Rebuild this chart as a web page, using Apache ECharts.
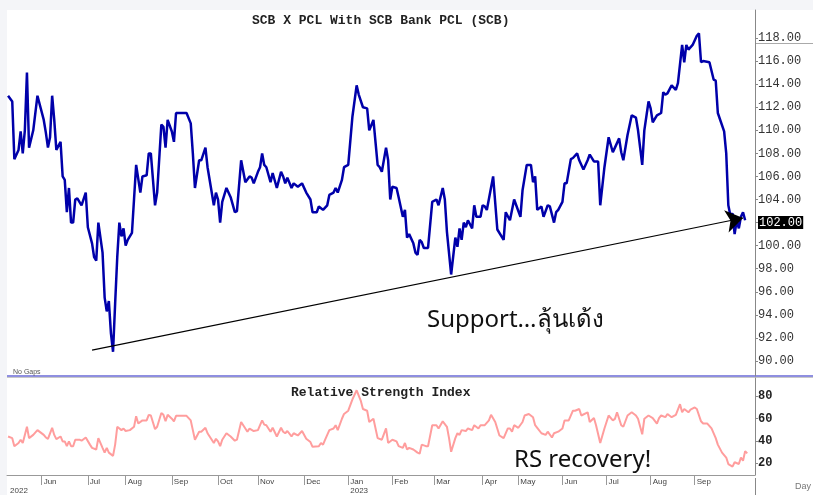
<!DOCTYPE html>
<html>
<head>
<meta charset="utf-8">
<script src="https://cdn.jsdelivr.net/npm/echarts@6/dist/echarts.min.js"></script>
<style>
html, body { margin: 0; padding: 0; background: #fff; }
#chart { width: 813px; height: 495px; }
</style>
</head>
<body>
<div id="chart"></div>
<script>
// x = trading day counted from the first bar (mid May 2022)
var priceDay = [
    0, 2, 3, 5, 6, 7, 8, 9, 10, 12,
    14, 17, 18, 19, 20, 21, 22, 23, 25, 26,
    27, 28, 29, 30, 31, 32, 33, 35, 37, 38,
    40, 41, 42, 43, 45, 46, 47, 48, 49, 50,
    51, 52, 53, 54, 55, 56, 57, 59, 61, 63,
    64, 66, 67, 68, 70, 71, 73, 74, 75, 76,
    78, 79, 80, 85, 87, 88, 89, 91, 92, 94,
    95, 98, 99, 100, 101, 102, 104, 106, 108, 109,
    111, 113, 115, 116, 117, 119, 120, 121, 122, 123,
    125, 126, 128, 130, 131, 132, 133, 135, 136, 138,
    140, 142, 144, 145, 147, 148, 150, 152, 153, 155,
    156, 157, 159, 160, 162, 164, 166, 167, 169, 171,
    172, 174, 176, 177, 178, 180, 181, 182, 183, 185,
    186, 188, 189, 190, 191, 193, 194, 195, 196, 197,
    198, 200, 202, 204, 205, 207, 208, 209, 211, 213,
    214, 215, 216, 217, 218, 219, 221, 222, 223, 225,
    226, 227, 228, 231, 233, 236, 237, 239, 241, 242,
    244, 245, 247, 249, 250, 251, 252, 254, 255, 257,
    258, 260, 261, 262, 264, 265, 266, 268, 269, 271,
    272, 274, 276, 277, 279, 281, 282, 284, 286, 288,
    289, 291, 292, 293, 295, 297, 299, 300, 302, 303,
    305, 306, 307, 309, 311, 312, 313, 314, 316, 318,
    319, 321, 322, 323, 324, 326, 328, 329, 330, 331,
    334, 336, 337, 338, 341, 342, 343, 344, 345, 346,
    347, 348, 349, 350, 351
];
var priceClose = [
    113.0, 112.5, 107.5, 108.3, 109.9, 108, 110, 115, 108.5, 110,
    113, 110.9, 109.8, 108.5, 109.4, 113, 110.9, 108.3, 109, 106,
    105.7, 102.9, 105, 102, 102, 104, 104.1, 103.5, 104.6, 101.6,
    100.2, 99, 98.7, 102, 99.4, 95.5, 94.3, 95.2, 92.4, 90.8,
    95, 99, 102, 100.8, 101.5, 100, 100.5, 101.1, 107, 104.6,
    106, 106.1, 108, 108, 103.5, 104.6, 110.5, 110.3, 108.5, 110.9,
    109.9, 109, 111.5, 111.5, 110.6, 108, 105, 107.4, 107.4, 108.5,
    106.8, 103.5, 104.6, 104, 102, 103.8, 105, 104.2, 102.9, 103,
    107.4, 105.5, 106, 105.9, 105.4, 106.4, 106.8, 108, 107, 106.8,
    105.5, 106.3, 105, 106.4, 106, 105.4, 105.9, 105, 105.4, 105.1,
    105.4, 104.6, 104, 102.9, 102.9, 103.4, 103.1, 103.5, 104.4, 104.6,
    105, 104.6, 105.7, 106.8, 107, 111.2, 113.9, 113.1, 112, 111.9,
    110, 110.9, 107, 106.8, 106.4, 108.5, 107.4, 104, 105.1, 105,
    104.2, 102.5, 103.1, 100.7, 101, 100.2, 99.4, 99.2, 100.5, 100.3,
    99.8, 99.8, 103.8, 104, 103.5, 105, 104, 101.2, 97.5, 100.7,
    99.9, 101.5, 100.5, 102, 101.6, 102.2, 101.5, 103.5, 102.5, 102.5,
    103.5, 103.4, 103.1, 106, 101.4, 100.5, 102.9, 102.2, 104, 103.5,
    102.5, 104.8, 107, 107, 105.5, 106, 103.1, 103.4, 102.5, 103.5,
    103.4, 102, 102.9, 103.1, 103.8, 105.4, 105.4, 107.5, 107.6, 108,
    107.4, 106.6, 107.4, 107.9, 107.3, 107.3, 103.5, 106.8, 109.4, 108.1,
    108.5, 109.3, 108.1, 107.4, 109.6, 111.3, 111.1, 110, 107, 110,
    112.5, 111.9, 110.7, 111.3, 111.5, 113.3, 113.1, 113.2, 113.9, 113.5,
    114.1, 117.4, 115.9, 117.4, 117, 117.4, 118.2, 118.4, 115.9, 116,
    115.9, 114.4, 114.3, 111.5, 109.9, 108, 103.5, 102.6, 102.8, 101,
    102.2, 101.5, 102.5, 102.9, 102.2
];

var rsiDay = [
    0, 2, 3, 5, 6, 7, 8, 9, 10, 12,
    14, 17, 18, 19, 21, 22, 23, 25, 26, 27,
    28, 29, 30, 31, 32, 34, 35, 37, 39, 40,
    42, 43, 45, 46, 47, 48, 50, 51, 52, 54,
    55, 56, 58, 60, 61, 62, 64, 66, 67, 68,
    70, 71, 73, 74, 75, 76, 78, 79, 80, 85,
    87, 88, 89, 91, 92, 94, 95, 98, 99, 100,
    101, 102, 104, 106, 108, 109, 111, 114, 115, 117,
    119, 120, 121, 122, 123, 125, 126, 128, 130, 131,
    132, 133, 135, 136, 138, 140, 142, 144, 145, 148,
    149, 150, 151, 153, 155, 156, 157, 159, 160, 162,
    164, 166, 168, 169, 171, 172, 174, 176, 178, 180,
    181, 183, 185, 186, 188, 189, 190, 191, 193, 195,
    196, 197, 199, 200, 202, 204, 205, 207, 209, 210,
    211, 213, 214, 215, 216, 218, 219, 221, 222, 224,
    225, 227, 229, 230, 232, 234, 236, 238, 239, 240,
    241, 243, 245, 246, 248, 250, 251, 252, 254, 256,
    257, 259, 260, 262, 264, 265, 267, 269, 270, 272,
    273, 276, 277, 279, 280, 282, 284, 286, 288, 289,
    290, 292, 293, 295, 297, 299, 300, 302, 303, 305,
    307, 309, 310, 311, 313, 314, 316, 318, 320, 321,
    322, 324, 325, 327, 328, 330, 331, 333, 335, 337,
    338, 340, 342, 343, 345, 346, 348, 349, 350, 351,
    352
];
var rsiValue = [
    44.1, 42.6, 35.4, 38.3, 41.2, 38.3, 45.5, 52.8, 42.6, 45.5,
    49.8, 45.5, 43.2, 42, 51.9, 45.5, 41.7, 44.1, 39.7, 39.7,
    35.4, 39.7, 35.4, 35.4, 41.2, 41.2, 40.3, 43.2, 36.8, 33.9,
    32.4, 42.6, 33.9, 29.6, 33.9, 29.6, 26.7, 36.8, 52.8, 49.8,
    51.2, 49, 49.8, 52.8, 62.3, 55.7, 58.5, 58.5, 63.5, 62.9,
    50.7, 52.8, 65.2, 63.5, 57.7, 63.5, 60, 57.7, 62.6, 62.6,
    58.5, 49.8, 41.2, 48.4, 48.4, 51.9, 47, 38.3, 42, 39.7,
    35.4, 41.2, 47, 44.1, 40.3, 41.2, 57.1, 48.4, 51.2, 49,
    49.8, 54.2, 58.5, 54.7, 54.2, 48.4, 51.9, 44.1, 51.9, 48.4,
    47, 49, 44.1, 47, 45, 49, 42, 39.1, 34.8, 35.4,
    38.3, 36.8, 41.2, 49.8, 51.2, 54.2, 49.8, 60, 64.3, 67.2,
    77.4, 85.5, 76, 68.7, 67.2, 57.1, 60, 42.6, 41.2, 51.3,
    38.3, 41.2, 39.7, 35.4, 33.9, 38.3, 32.4, 33.9, 32.4, 29.6,
    28.7, 36.8, 35.4, 35.4, 54.2, 54.2, 51.3, 57.7, 52.8, 42.6,
    30.4, 42.6, 47, 45.5, 49.8, 49, 51.3, 49.8, 54.2, 51.3,
    54.2, 54.2, 58.5, 63.5, 57.1, 45, 42.6, 51.3, 51.3, 48.4,
    54.2, 51.9, 57.1, 62.9, 64.3, 61.4, 54.2, 51.9, 47, 45.5,
    48.4, 43.2, 47, 48.4, 51.3, 58.5, 58.5, 67.2, 67.2, 68.7,
    62.9, 65.8, 57.1, 60.6, 54.2, 38.3, 51.3, 62.9, 58.5, 59.9,
    65.8, 54.2, 52.8, 62.9, 65.8, 62.9, 60, 46.1, 60, 62.9,
    60.6, 55.7, 60.6, 62.9, 61.4, 64.3, 61.4, 63.5, 73, 65.8,
    68.7, 65.8, 68.1, 70.1, 68.7, 57.7, 55.7, 55.7, 51.3, 42.6,
    36.8, 29.6, 25.2, 19.4, 17.1, 21, 19.4, 25.2, 22.3, 31,
    29
];

var monthDay = [16, 38, 56, 78, 100, 119, 141, 162, 183, 203, 226, 243, 264, 285, 306, 327];
var monthName = ['Jun', 'Jul', 'Aug', 'Sep', 'Oct', 'Nov', 'Dec', 'Jan', 'Feb', 'Mar', 'Apr', 'May', 'Jun', 'Jul', 'Aug', 'Sep'];
var yearDay = [0, 162];
var yearName = ['2022', '2023'];

var priceTicks = [90, 92, 94, 96, 98, 100, 102, 104, 106, 108, 110, 112, 114, 116, 118];
var rsiTicks = [20, 40, 60, 80];
var lastPrice = 102;

// support line: from the July 2022 low to the last bar
var supportFrom = [40, 90.95];
var supportTo = [350, 102.4];

var mono = '"Liberation Mono", "DejaVu Sans Mono", monospace';

function zip(xs, ys) {
    return xs.map(function (x, i) { return [x, ys[i]]; });
}

var dom = document.getElementById('chart');
var myChart = echarts.init(dom);
var option = {
    backgroundColor: '#fff',
    animation: false,
    title: [{
        text: 'SCB X PCL With SCB Bank PCL (SCB)',
        left: 247,
        top: 9,
        textStyle: { fontFamily: mono, fontWeight: 'bold', fontSize: 13, color: '#222' }
    }, {
        text: 'Relative Strength Index',
        left: 286,
        top: 381,
        textStyle: { fontFamily: mono, fontWeight: 'bold', fontSize: 13, color: '#222' }
    }],
    grid: [
        { left: 7, right: 58, top: 10, height: 366 },
        { left: 7, right: 58, top: 378, height: 100 }
    ],
    xAxis: [{
        type: 'value',
        gridIndex: 0,
        min: -0.5,
        max: 355.7,
        show: false
    }, {
        type: 'value',
        gridIndex: 1,
        min: -0.5,
        max: 355.7,
        axisLine: { onZero: false, lineStyle: { color: '#999' } },
        axisTick: { customValues: monthDay, length: 10, lineStyle: { color: '#999' } },
        splitLine: { show: false },
        axisLabel: {
            customValues: [0].concat(monthDay),
            align: 'left',
            margin: 2,
            padding: [0, 0, 0, 2],
            fontSize: 8,
            lineHeight: 9,
            color: '#444',
            fontFamily: '"Liberation Sans", Arial, sans-serif',
            formatter: function (v) {
                var m = monthDay.indexOf(v);
                var y = yearDay.indexOf(v);
                return (m >= 0 ? monthName[m] : '') + (y >= 0 ? '\n' + yearName[y] : '');
            }
        }
    }],
    yAxis: [{
        type: 'value',
        gridIndex: 0,
        position: 'right',
        min: 88.7,
        max: 120.43,
        splitLine: { show: false },
        axisLine: { show: true, onZero: false, lineStyle: { color: '#888' } },
        axisTick: { show: true, customValues: priceTicks, length: 3, lineStyle: { color: '#888' } },
        axisLabel: {
            customValues: priceTicks,
            margin: 3,
            fontFamily: mono,
            fontSize: 12,
            color: '#333',
            formatter: function (v) {
                return v === lastPrice ? '{hi|' + v.toFixed(2) + '}' : v.toFixed(2);
            },
            rich: {
                hi: { backgroundColor: '#000', color: '#fff', fontFamily: mono, fontSize: 12, padding: [1, 1, 0, 1] }
            }
        }
    }, {
        type: 'value',
        gridIndex: 1,
        position: 'right',
        min: 9.57,
        max: 96.52,
        splitLine: { show: false },
        axisLine: { show: true, onZero: false, lineStyle: { color: '#888' } },
        axisTick: { show: true, customValues: rsiTicks, length: 3, lineStyle: { color: '#888' } },
        axisLabel: {
            customValues: rsiTicks,
            margin: 3,
            fontFamily: mono,
            fontWeight: 'bold',
            fontSize: 12,
            color: '#222'
        }
    }],
    series: [{
        name: 'SCB',
        type: 'line',
        xAxisIndex: 0,
        yAxisIndex: 0,
        showSymbol: false,
        data: zip(priceDay, priceClose),
        lineStyle: { color: '#0000aa', width: 2.5 },
        z: 3,
        markLine: {
            silent: true,
            symbol: ['none', 'arrow'],
            symbolSize: 17,
            label: { show: false },
            lineStyle: { color: '#000', width: 1.2, type: 'solid' },
            itemStyle: { color: '#000' },
            data: [[{ coord: supportFrom }, { coord: supportTo }]]
        }
    }, {
        name: 'RSI',
        type: 'line',
        xAxisIndex: 1,
        yAxisIndex: 1,
        showSymbol: false,
        data: zip(rsiDay, rsiValue),
        lineStyle: { color: '#ff9d9d', width: 2 }
    }],
    graphic: [
        { type: 'rect', shape: { x: 0, y: 0, width: 813, height: 10 }, style: { fill: '#f4f5f8' } },
        { type: 'rect', shape: { x: 0, y: 0, width: 7, height: 495 }, style: { fill: '#f4f5f8' } },
        { type: 'rect', shape: { x: 7, y: 375, width: 806, height: 2 }, style: { fill: '#8f8fe0' } },
        { type: 'line', shape: { x1: 7, y1: 377.5, x2: 813, y2: 377.5 }, style: { stroke: '#c8c8c8', lineWidth: 1 } },
        { type: 'line', shape: { x1: 755.5, y1: 478, x2: 755.5, y2: 495 }, style: { stroke: '#888', lineWidth: 1 } },
        { type: 'line', shape: { x1: 755, y1: 43.5, x2: 813, y2: 43.5 }, style: { stroke: '#aaa', lineWidth: 1 } },
        {
            type: 'text', x: 13, y: 372,
            style: { text: 'No Gaps', fontSize: 7, fontFamily: '"Liberation Sans", Arial, sans-serif', fill: '#555', verticalAlign: 'middle' }
        },
        {
            type: 'text', x: 427, y: 320,
            style: { text: 'Support…ลุ้นเด้ง', fontSize: 24, fontFamily: '"Noto Sans", sans-serif', fill: '#111', verticalAlign: 'middle' }
        },
        {
            type: 'text', x: 514, y: 460,
            style: { text: 'RS recovery!', fontSize: 24, fontFamily: '"Noto Sans", sans-serif', fill: '#111', verticalAlign: 'middle' }
        },
        {
            type: 'text', x: 795, y: 487,
            style: { text: 'Day', fontSize: 9, fontFamily: '"Liberation Sans", Arial, sans-serif', fill: '#777', verticalAlign: 'middle' }
        }
    ]
};
if (option && typeof option === 'object') {
    myChart.setOption(option, true);
}
</script>
</body>
</html>
